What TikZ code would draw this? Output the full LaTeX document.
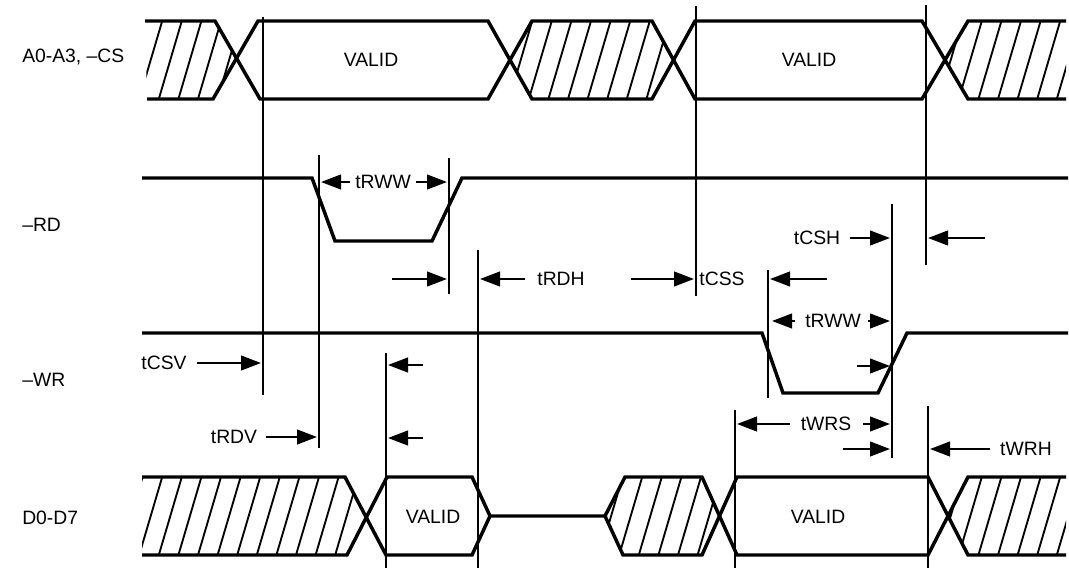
\documentclass[tikz,border=0pt]{standalone}
\usepackage{fontspec}
\setmainfont{Liberation Sans}
\usetikzlibrary{arrows.meta}
\begin{document}
\begin{tikzpicture}[x=0.75pt,y=-0.75pt,
  sig/.style={line width=2.6pt, line join=miter, line cap=butt},
  refl/.style={line width=1.5pt},
  hat/.style={line width=1.4pt},
  dim/.style={line width=1.6pt, -{Triangle[length=15pt,width=11pt]}},
  lbl/.style={font=\fontsize{14.5pt}{16pt}\selectfont, inner sep=0pt},
]
\useasboundingbox (0,0) rectangle (1069,573);

% ---------- hatching ----------
\begin{scope}
\clip (145,21) -- (215,21) -- (237,60) -- (213,99) -- (147,99) -- cycle;
\foreach \x in {100,119.6,...,260} \draw[hat] (\x,99) -- ++(23,-78);
\end{scope}
\begin{scope}
\clip (510,60) -- (532,21) -- (652,21) -- (673.5,60) -- (652,99) -- (532,99) -- cycle;
\foreach \x in {470,489.6,...,700} \draw[hat] (\x,99) -- ++(23,-78);
\end{scope}
\begin{scope}
\clip (945,60) -- (968,21) -- (1066,21) -- (1066,99) -- (968,99) -- cycle;
\foreach \x in {900,919.6,...,1100} \draw[hat] (\x,99) -- ++(23,-78);
\end{scope}
\begin{scope}
\clip (142,477) -- (345,477) -- (366,516) -- (347,555) -- (142,555) -- cycle;
\foreach \x in {100,119.6,...,400} \draw[hat] (\x,555) -- ++(23,-78);
\end{scope}
\begin{scope}
\clip (605,516) -- (625,477) -- (702,477) -- (719.5,516) -- (702,555) -- (623,555) -- cycle;
\foreach \x in {580,599.6,...,740} \draw[hat] (\x,555) -- ++(23,-78);
\end{scope}
\begin{scope}
\clip (948,516) -- (968,477) -- (1066,477) -- (1066,555) -- (968,555) -- cycle;
\foreach \x in {900,919.6,...,1100} \draw[hat] (\x,555) -- ++(23,-78);
\end{scope}

% ---------- signals ----------
\draw[sig] (145,21) -- (215,21) -- (260,99) -- (488,99) -- (532,21) -- (652,21) -- (695,99) -- (922,99) -- (968,21) -- (1066,21);
\draw[sig] (147,99) -- (213,99) -- (258,21) -- (488,21) -- (532,99) -- (652,99) -- (695,21) -- (922,21) -- (968,99) -- (1066,99);

\draw[sig] (142,178) -- (312,178) -- (335,241) -- (432,241) -- (462,178) -- (1068,178);
\draw[sig] (142,333) -- (762,333) -- (783,393) -- (878,393) -- (907,333) -- (1068,333);

\draw[sig] (142,477) -- (345,477) -- (386,555) -- (472,555) -- (490,516) -- (605,516) -- (625,477) -- (702,477) -- (737,555) -- (928,555) -- (968,477) -- (1066,477);
\draw[sig] (142,555) -- (347,555) -- (387,477) -- (472,477) -- (490,516);
\draw[sig] (605,516) -- (623,555) -- (702,555) -- (737,477) -- (928,477) -- (968,555) -- (1066,555);

% ---------- reference lines ----------
\draw[refl] (263,17) -- (263,395);
\draw[refl] (319,155) -- (319,448);
\draw[refl] (449,158) -- (449,294);
\draw[refl] (478,250) -- (478,568);
\draw[refl] (386,353) -- (386,568);
\draw[refl] (696,6) -- (696,296);
\draw[refl] (768,270) -- (768,398);
\draw[refl] (892,204) -- (892,458);
\draw[refl] (926,5) -- (926,265);
\draw[refl] (735,410) -- (735,568);
\draw[refl] (928,406) -- (928,568);

% ---------- labels ----------
\node[lbl,anchor=west] (lA) at (22,57) {A0-A3, –CS};
\node[lbl,anchor=west] (lRD) at (22,225) {–RD};
\node[lbl,anchor=west] (lWR) at (22,380) {–WR};
\node[lbl,anchor=west] (lD) at (22,518) {D0-D7};

\node[lbl] (v1) at (371,60) {VALID};
\node[lbl] (v2) at (809,60) {VALID};
\node[lbl] (v3) at (433,517) {VALID};
\node[lbl] (v4) at (818,517) {VALID};

\node[lbl] (trww1) at (383,182) {tRWW};
\node[lbl] (trdh) at (561,279) {tRDH};
\node[lbl] (tcss) at (722,279) {tCSS};
\node[lbl] (tcsh) at (817,238) {tCSH};
\node[lbl] (trww2) at (833,321) {tRWW};
\node[lbl] (tcsv) at (164,363) {tCSV};
\node[lbl] (trdv) at (234,437) {tRDV};
\node[lbl] (twrs) at (826,424) {tWRS};
\node[lbl] (twrh) at (1026,449) {tWRH};

% ---------- dimension arrows ----------
\draw[dim] (350,182) -- (321,182);
\draw[dim] (416,182) -- (447,182);
\draw[dim] (392,279) -- (447,279);
\draw[dim] (525,279) -- (480,279);
\draw[dim] (631,279) -- (694,279);
\draw[dim] (827,279) -- (770,279);
\draw[dim] (850,238) -- (890,238);
\draw[dim] (985,238) -- (928,238);
\draw[dim] (795,321) -- (772,321);
\draw[dim] (868,321) -- (890,321);
\draw[dim] (857,366) -- (890,366);
\draw[dim] (197,363) -- (261,363);
\draw[dim] (266,437) -- (317,437);
\draw[dim] (423,365) -- (388,365);
\draw[dim] (423,438) -- (388,438);
\draw[dim] (790,424) -- (737,424);
\draw[dim] (863,424) -- (890,424);
\draw[dim] (843,449) -- (890,449);
\draw[dim] (990,449) -- (930,449);
\end{tikzpicture}
\end{document}
